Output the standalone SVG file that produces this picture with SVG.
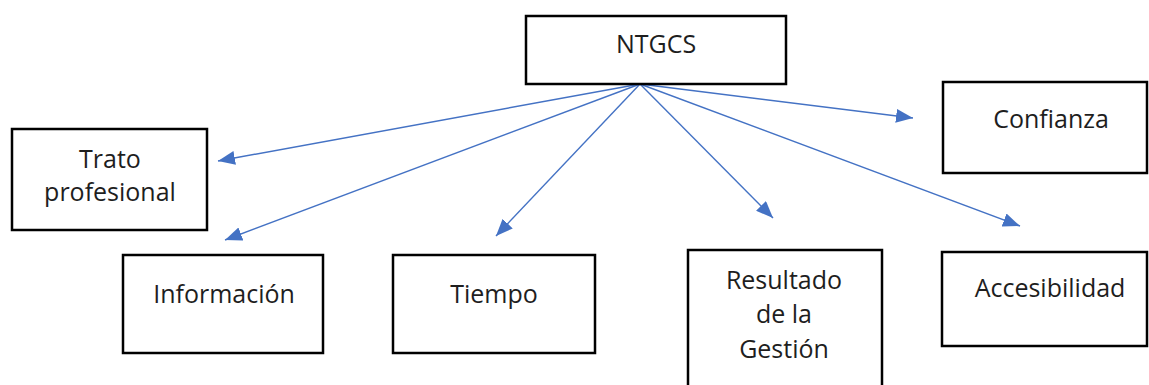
<svg xmlns="http://www.w3.org/2000/svg" width="1149" height="385" viewBox="0 0 1149 385">
  <style>
    .box { fill: #ffffff; stroke: #000000; stroke-width: 2.5; }
    .label { font-family: "Open Sans", "Liberation Sans", sans-serif; font-size: 25px; fill: #1e1e1e; text-anchor: middle; }
    .link { stroke: #4472C4; stroke-width: 1.4; fill: none; marker-end: url(#head); }
  </style>
  <defs>
    <marker id="head" markerUnits="userSpaceOnUse" markerWidth="18" markerHeight="14" viewBox="0 0 18 14" refX="17" refY="7" orient="auto">
      <path d="M0,0 L17,7 L0,14 Z" fill="#4472C4"/>
    </marker>
  </defs>
  <rect width="1149" height="385" fill="#ffffff"/>

  <g id="connectors">
    <line class="link" x1="640" y1="84" x2="218" y2="161"/>
    <line class="link" x1="640" y1="84" x2="225" y2="240"/>
    <line class="link" x1="640" y1="84" x2="496" y2="236"/>
    <line class="link" x1="640" y1="84" x2="773" y2="218"/>
    <line class="link" x1="640" y1="84" x2="1020" y2="226"/>
    <line class="link" x1="640" y1="84" x2="913" y2="118"/>
  </g>

  <g id="ntgcs">
    <rect class="box" x="526" y="16" width="260" height="68"/>
    <text class="label" x="656" y="53">NTGCS</text>
  </g>

  <g id="trato">
    <rect class="box" x="12" y="129" width="195" height="101"/>
    <text class="label" x="110" y="168">Trato</text>
    <text class="label" x="110" y="201">profesional</text>
  </g>

  <g id="informacion">
    <rect class="box" x="123" y="255" width="200" height="98"/>
    <text class="label" x="224" y="303">Información</text>
  </g>

  <g id="tiempo">
    <rect class="box" x="393" y="255" width="202" height="98"/>
    <text class="label" x="494" y="303">Tiempo</text>
  </g>

  <g id="resultado">
    <rect class="box" x="688" y="250" width="194" height="145"/>
    <text class="label" x="784" y="289">Resultado</text>
    <text class="label" x="784" y="323">de la</text>
    <text class="label" x="784" y="358">Gestión</text>
  </g>

  <g id="confianza">
    <rect class="box" x="943" y="82" width="204" height="91"/>
    <text class="label" x="1051" y="128">Confianza</text>
  </g>

  <g id="accesibilidad">
    <rect class="box" x="942" y="252" width="205" height="94"/>
    <text class="label" x="1050" y="297">Accesibilidad</text>
  </g>
</svg>
